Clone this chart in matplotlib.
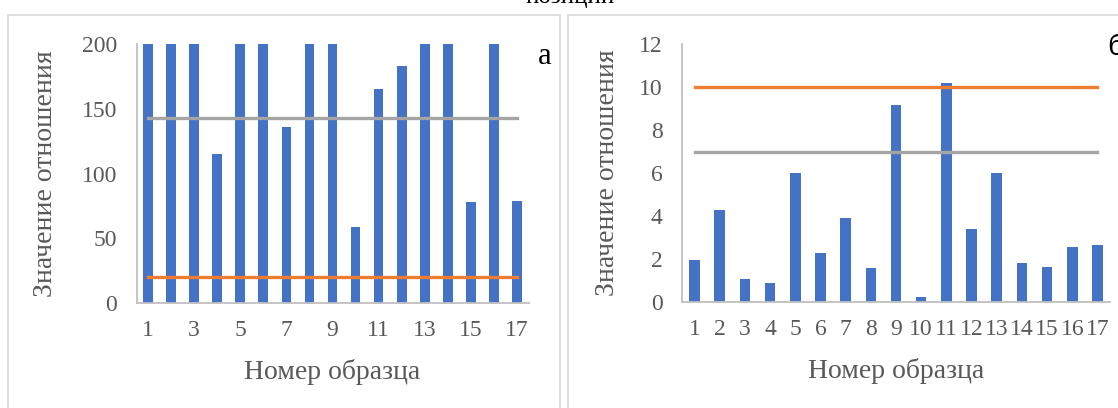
# bar charts of ratio values per sample, two panels (a, б)
import numpy as np
import matplotlib.pyplot as plt
from matplotlib.patches import Rectangle

# data
samples = list(range(1, 18))
ratio_a = [200, 200, 200, 115, 200, 200, 136, 200, 200, 59, 165, 183, 200, 200, 78, 200, 79]
gray_a = 143
orange_a = 20
ratio_b = [1.95, 4.28, 1.08, 0.87, 5.98, 2.29, 3.89, 1.6, 9.15, 0.25, 10.17, 3.4, 5.98, 1.83, 1.63, 2.57, 2.67]
gray_b = 7
orange_b = 10

blue = '#4472c4'
orange = '#ed7d31'
gray = '#a5a5a5'
txt = '#595959'
serif = ['Liberation Serif', 'DejaVu Serif']

fig = plt.figure(figsize=(11.18, 4.08), dpi=100)

# chart area frames
for x0, w in [(8, 552), (568, 560)]:
    fig.patches.append(Rectangle((x0 / 1118, -0.05), w / 1118, 1 - 15 / 408 + 0.05,
                                 transform=fig.transFigure, fill=False,
                                 edgecolor='#d9d9d9', linewidth=1.2))

fig.text(0.51, 1 - 3 / 408, 'позиции', ha='center', va='baseline',
         fontsize=18, family=serif, color='black')


def panel(rect, values, gline, oline, ymax, ystep, xticks, ylabel_x):
    ax = fig.add_axes(rect)
    ax.bar(samples, values, width=0.42, color=blue, zorder=2)
    ax.plot(samples, [gline] * len(samples), color=gray, linewidth=2.4, zorder=3)
    ax.plot(samples, [oline] * len(samples), color=orange, linewidth=2.4, zorder=3)
    ax.set_xlim(0.5, 17.5)
    ax.set_ylim(0, ymax)
    ax.set_yticks(np.arange(0, ymax + ystep, ystep))
    ax.set_xticks(xticks)
    for s in ['top', 'right']:
        ax.spines[s].set_visible(False)
    for s in ['left', 'bottom']:
        ax.spines[s].set_color('#bfbfbf')
        ax.spines[s].set_linewidth(1.3)
    ax.spines['bottom'].set_zorder(4)
    ax.tick_params(length=0, labelsize=17, labelcolor=txt)
    ax.tick_params(axis='y', pad=14)
    ax.tick_params(axis='x', pad=12)
    for lab in ax.get_xticklabels() + ax.get_yticklabels():
        lab.set_family(serif)
    ax.set_xlabel('Номер образца', fontsize=20, family=serif, color=txt, labelpad=13)
    ax.set_ylabel('Значение отношения', fontsize=20, family=serif, color=txt)
    ax.yaxis.set_label_coords(ylabel_x, 0.5)
    return ax


ax1 = panel([136.5 / 1118, 1 - 303 / 408, 392 / 1118, 259 / 408],
            ratio_a, gray_a, orange_a, 200, 50, list(range(1, 18, 2)), -0.20)
ax2 = panel([682 / 1118, 1 - 302 / 408, 428 / 1118, 258 / 408],
            ratio_b, gray_b, orange_b, 12, 2, samples, -0.145)

fig.text(545 / 1118, 1 - 56 / 408, 'a', ha='center', va='center',
         fontsize=22, family=serif, color='black')
fig.text(1107 / 1118, 1 - 47 / 408, 'б', ha='left', va='center',
         fontsize=21, family=['Liberation Sans', 'DejaVu Sans'], color='black')

plt.savefig('out.png', dpi=100)
